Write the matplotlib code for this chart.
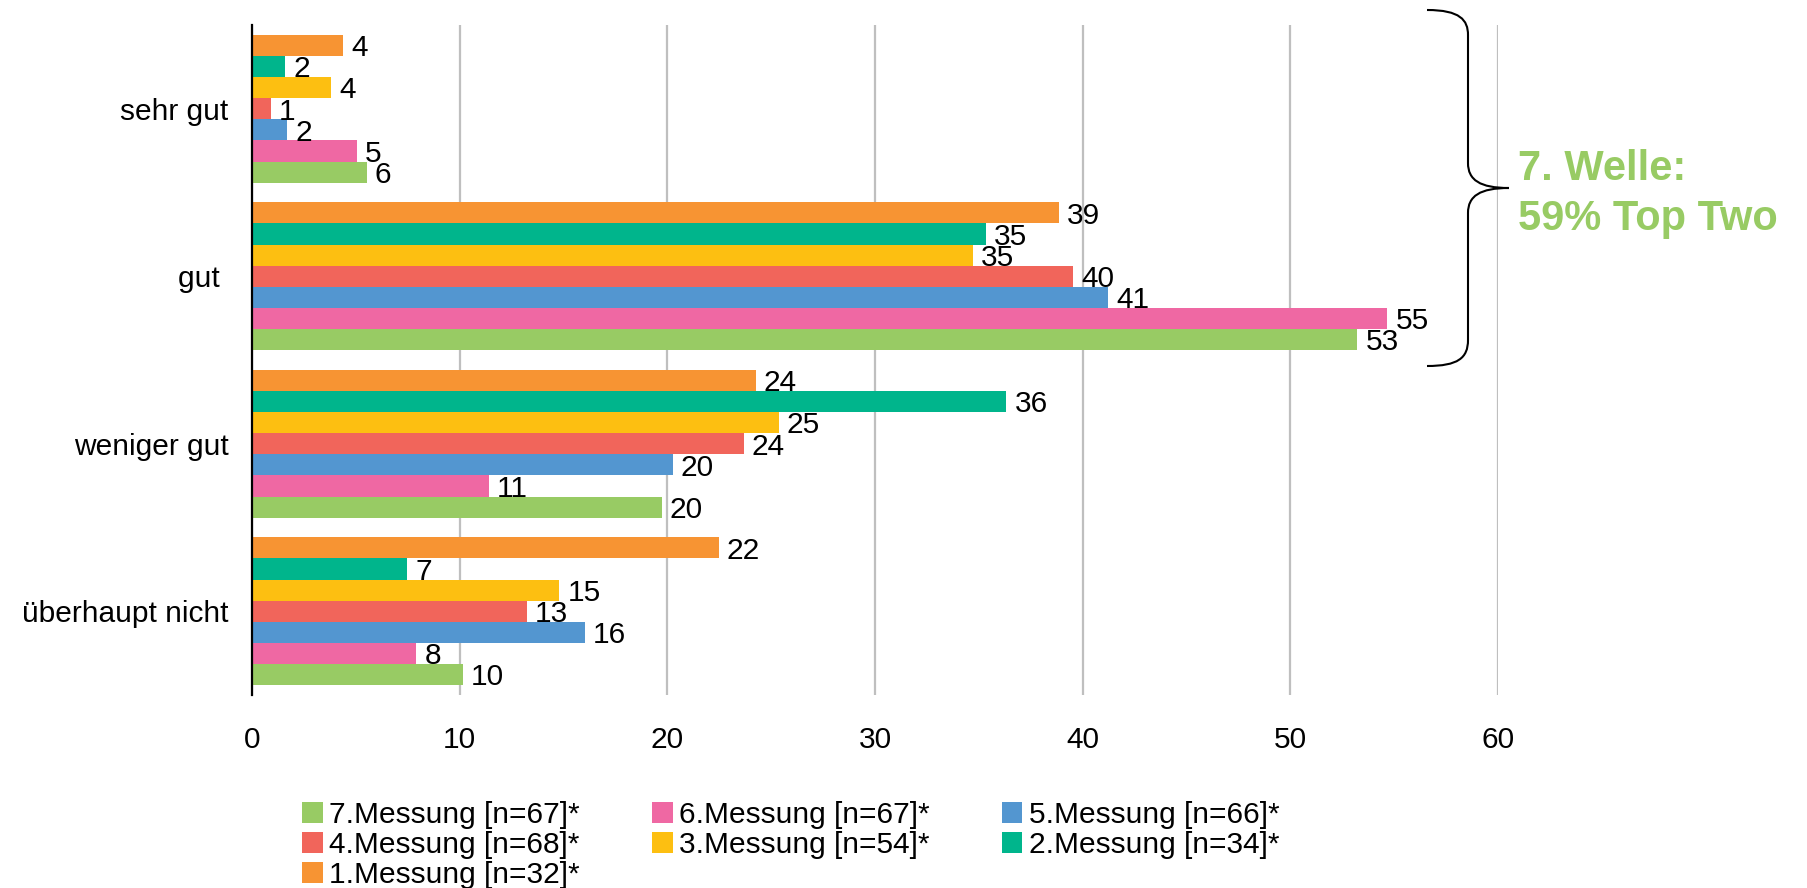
import numpy as np
import matplotlib
matplotlib.use('Agg')
import matplotlib.pyplot as plt
from matplotlib.path import Path
from matplotlib.patches import PathPatch

plt.rcParams['font.family'] = ['Liberation Sans', 'DejaVu Sans']

# categories (top to bottom)
categories = ['sehr gut', 'gut ', 'weniger gut', 'überhaupt nicht']

# series, top bar in each group first
series_names = ['1.Messung [n=32]*', '2.Messung [n=34]*', '3.Messung [n=54]*',
                '4.Messung [n=68]*', '5.Messung [n=66]*', '6.Messung [n=67]*',
                '7.Messung [n=67]*']
m1 = [4.37, 38.85, 24.25, 22.47]
m2 = [1.58, 35.34, 36.33, 7.45]
m3 = [3.79, 34.70, 25.36, 14.78]
m4 = [0.90, 39.55, 23.67, 13.23]
m5 = [1.67, 41.21, 20.25, 16.02]
m6 = [5.04, 54.66, 11.40, 7.92]
m7 = [5.52, 53.22, 19.72, 10.15]
values = [m1, m2, m3, m4, m5, m6, m7]
colors = ['#F79433', '#00B58C', '#FDBF11', '#F1655B', '#5396D0', '#EF68A3', '#98CB64']

xticks = [0, 10, 20, 30, 40, 50, 60]

W, H = 1808, 888
fig = plt.figure(figsize=(W / 100, H / 100), dpi=100)
ax = fig.add_axes([252 / W, 1 - 695 / H, (1498 - 252) / W, (695 - 25) / H])

fs = 21.5
h = 0.126
y = np.arange(len(categories))
bars = []
for i, (vals, col, name) in enumerate(zip(values, colors, series_names)):
    pos = y + (i - 3) * h
    b = ax.barh(pos, vals, height=h, color=col, label=name, zorder=3)
    for v, p in zip(vals, pos):
        ax.annotate(f'{v:.0f}', xy=(v, p), xytext=(6, -2), textcoords='offset points',
                    ha='left', va='center', fontsize=fs, zorder=5)
    bars.append(b)

ax.set_ylim(len(categories) - 0.5, -0.5)
ax.set_xlim(0, 60)
ax.set_xticks(xticks)
ax.set_yticks(y)
ax.set_yticklabels(categories)
ax.tick_params(axis='x', length=0, pad=22, labelsize=fs)
ax.tick_params(axis='y', length=0, pad=17, labelsize=fs)
ax.grid(axis='x', color='#BFBFBF', linewidth=1.6, zorder=0)
for s in ['top', 'right', 'bottom']:
    ax.spines[s].set_visible(False)
ax.spines['left'].set_linewidth(1.6)
ax.spines['left'].set_zorder(4)

# legend, row-major order like the original: 7 6 5 / 4 3 2 / 1
order = [6, 3, 0, 5, 2, 4, 1]
handles = [bars[k] for k in order]
labels = [series_names[k] for k in order]
fig.legend(handles, labels, loc='upper left', bbox_to_anchor=(302 / W, 1 - 801 / H),
           ncol=3, frameon=False, fontsize=fs, handlelength=0.7, handleheight=0.7,
           handletextpad=0.22, columnspacing=2.4, labelspacing=0.07,
           borderpad=0, borderaxespad=0)

# curly brace for the top two
pts = [(1427, 10), (1460, 10), (1468, 20), (1468, 35), (1468, 163),
       (1468, 180), (1480, 188), (1509, 188),
       (1480, 188), (1468, 196), (1468, 213),
       (1468, 340), (1468, 358), (1458, 366), (1427, 366)]
codes = [Path.MOVETO, Path.CURVE4, Path.CURVE4, Path.CURVE4, Path.LINETO,
         Path.CURVE4, Path.CURVE4, Path.CURVE4,
         Path.CURVE4, Path.CURVE4, Path.CURVE4,
         Path.LINETO, Path.CURVE4, Path.CURVE4, Path.CURVE4]
verts = [(px / W, 1 - py / H) for px, py in pts]
fig.patches.append(PathPatch(Path(verts, codes), transform=fig.transFigure,
                             fill=False, edgecolor='black', linewidth=1.5))

fig.text(1518 / W, 1 - 180 / H, '7. Welle:', fontsize=30, fontweight='bold',
         color='#98CB64', va='baseline', ha='left')
fig.text(1518 / W, 1 - 230 / H, '59% Top Two', fontsize=30, fontweight='bold',
         color='#98CB64', va='baseline', ha='left')

fig.savefig('out.png', dpi=100)
